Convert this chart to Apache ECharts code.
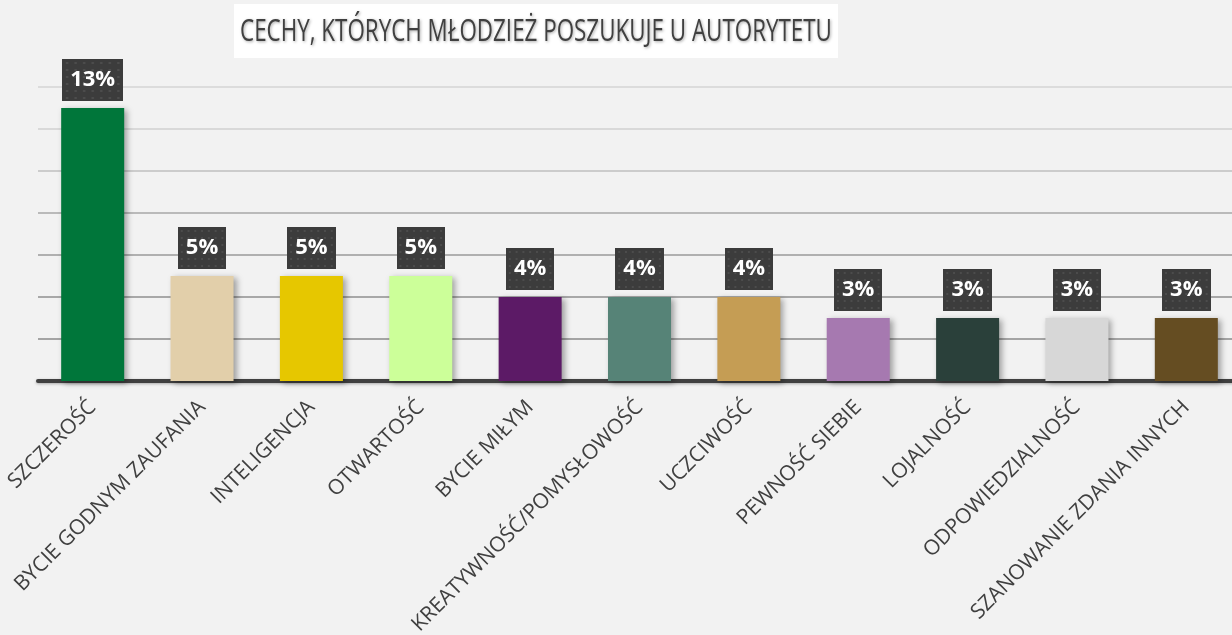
<!DOCTYPE html>
<html>
<head>
<meta charset="utf-8">
<script src="https://cdn.jsdelivr.net/npm/echarts@6/dist/echarts.min.js"></script>
<style>
html,body{margin:0;padding:0;background:#f2f2f2;}
#chart{width:1232px;height:635px;}
</style>
</head>
<body>
<div id="chart"></div>
<script>
const titleText = 'CECHY, KTÓRYCH MŁODZIEŻ POSZUKUJE U AUTORYTETU';
const categories = ['SZCZEROŚĆ','BYCIE GODNYM ZAUFANIA','INTELIGENCJA','OTWARTOŚĆ','BYCIE MIŁYM','KREATYWNOŚĆ/POMYSŁOWOŚĆ','UCZCIWOŚĆ','PEWNOŚĆ SIEBIE','LOJALNOŚĆ','ODPOWIEDZIALNOŚĆ','SZANOWANIE ZDANIA INNYCH'];
const values = [13,5,5,5,4,4,4,3,3,3,3];
const barColors = ['#00763a','#e2cfaa','#e6c700','#ccff99','#5c1a66','#568377','#c59d54','#a679b0','#2a403a','#d7d7d7','#654d22'];
const gridColors = ['#a4a4a4','#a4a4a4','#a8a8a8','#b0b0b0','#bababa','#cccccc','#d9d9d9','#dcdcdc'];

// dotted texture for value label boxes
const pat = document.createElement('canvas');
pat.width = 50; pat.height = 42;
(function(){
  const c = pat.getContext('2d');
  c.fillStyle = '#3c3c3c'; c.fillRect(0,0,50,42);
  c.fillStyle = '#4c4c4c';
  for (let y = 3; y < 42; y += 7) for (let x = 3; x < 50; x += 7) c.fillRect(x, y, 2, 2);
})();

const chart = echarts.init(document.getElementById('chart'));
chart.setOption({
  backgroundColor: '#f2f2f2',
  animation: false,
  graphic: [
    {type:'rect', left:234, top:4, shape:{width:604, height:54}, style:{fill:'#ffffff'}, z:10},
    {type:'text', x:536, y:32, scaleY:1.4, z:11,
      style:{text:titleText, fill:'#404040', font:'22.4px "Open Sans"', align:'center', verticalAlign:'middle',
        textShadowColor:'rgba(0,0,0,0.35)', textShadowBlur:3, textShadowOffsetX:1, textShadowOffsetY:1}}
  ],
  grid: {left:38, right:-9, top:87, bottom:254, outerBoundsMode:'none', containLabel:false},
  xAxis: {
    type:'category', data:categories,
    axisLine:{show:true, lineStyle:{color:'#404040', width:4, shadowColor:'rgba(0,0,0,0.3)', shadowBlur:3, shadowOffsetY:1}},
    axisTick:{show:false},
    axisLabel:{interval:0, rotate:45, margin:23, color:'#404040', fontFamily:'Open Sans', fontSize:21}
  },
  yAxis: {
    type:'value', min:0, max:14, interval:2,
    axisLine:{show:false}, axisTick:{show:false}, axisLabel:{show:false},
    splitLine:{show:true, lineStyle:{color:gridColors, width:2}}
  },
  series: [{
    type:'bar', data:values, barWidth:63,
    itemStyle:{color:function(p){return barColors[p.dataIndex];}, shadowColor:'rgba(0,0,0,0.35)', shadowBlur:6, shadowOffsetX:3, shadowOffsetY:2},
    label:{show:true, position:'top', distance:7, formatter:'{c}%', color:'#ffffff', fontFamily:'Open Sans', fontWeight:'bold', fontSize:22,
      backgroundColor:{image:pat}, padding:[9,8,9,8], lineHeight:24,
      shadowColor:'rgba(0,0,0,0.35)', shadowBlur:6, shadowOffsetX:3, shadowOffsetY:3}
  }]
});
</script>
</body>
</html>
